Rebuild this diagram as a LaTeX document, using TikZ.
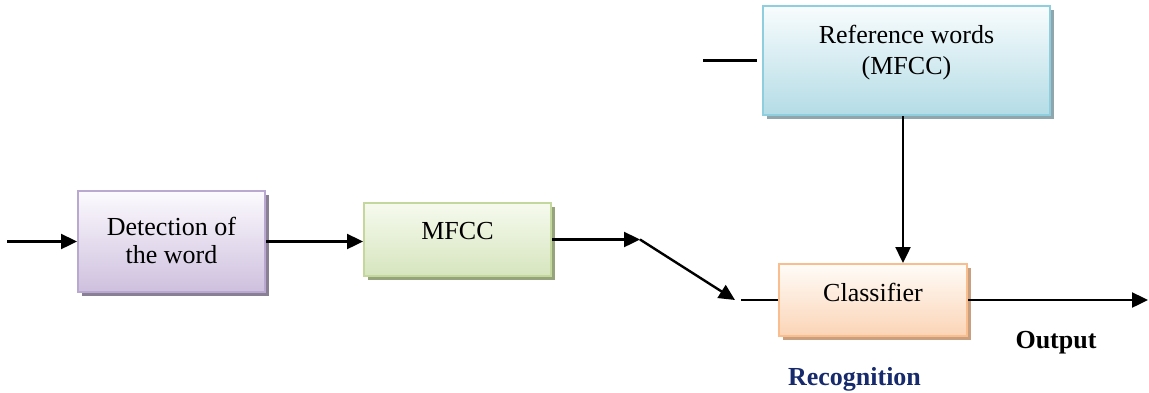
\documentclass[tikz,border=0pt]{standalone}
\usepackage{fontspec}
\setmainfont{Liberation Serif}
\usetikzlibrary{arrows.meta,shadows}

% box palettes: border, light top, darker bottom, shadow
\definecolor{detB}{RGB}{185,168,208}
\definecolor{detT}{RGB}{252,250,254}
\definecolor{detL}{RGB}{206,192,222}
\definecolor{detS}{RGB}{138,128,150}
\definecolor{mfB}{RGB}{196,216,158}
\definecolor{mfT}{RGB}{246,250,238}
\definecolor{mfL}{RGB}{214,229,190}
\definecolor{mfS}{RGB}{150,164,124}
\definecolor{refB}{RGB}{142,206,222}
\definecolor{refT}{RGB}{248,252,253}
\definecolor{refL}{RGB}{180,220,230}
\definecolor{refS}{RGB}{142,166,172}
\definecolor{clB}{RGB}{250,190,142}
\definecolor{clT}{RGB}{255,252,248}
\definecolor{clL}{RGB}{251,212,182}
\definecolor{clS}{RGB}{200,160,128}
\definecolor{navy}{RGB}{22,42,108}

\tikzset{
  blockbox/.style n args={4}{draw=#1, line width=2pt, inner sep=0pt,
    top color=#2, bottom color=#3,
    drop shadow={shadow xshift=4pt, shadow yshift=-4pt, fill=#4, opacity=1}},
  lbl/.style={font=\fontsize{26}{28}\selectfont, align=center, inner sep=0pt},
  boldlbl/.style={font=\fontsize{26}{28}\selectfont\bfseries, inner sep=0pt},
  conn/.style={line width=2.4pt},
  arr/.style={conn, -{Triangle[length=16pt,width=15pt]}}
}

\begin{document}
\begin{tikzpicture}[x=1pt,y=-1pt]
\useasboundingbox (0,0) rectangle (1149,392);

% processing blocks
\node[blockbox={detB}{detT}{detL}{detS}, minimum width=187pt, minimum height=101pt] (det) at (171.5,241.5) {};
\node[blockbox={mfB}{mfT}{mfL}{mfS}, minimum width=187pt, minimum height=73pt] (mfcc) at (457.5,239.5) {};
\node[blockbox={refB}{refT}{refL}{refS}, minimum width=287pt, minimum height=109pt] (ref) at (906.5,60.5) {};
\node[blockbox={clB}{clT}{clL}{clS}, minimum width=188pt, minimum height=72pt] (cls) at (873,300) {};

% block texts
\node[lbl] (detTxt) at (171.5,240) {Detection of\\the word};
\node[lbl] (mfccTxt) at (457.5,231) {MFCC};
\node[lbl, font=\fontsize{26}{31}\selectfont] (refTxt) at (906.5,52.4) {Reference words\\(MFCC)};
\node[lbl] (clsTxt) at (873,292) {Classifier};

% free labels
\node[boldlbl] (outTxt) at (1056,343) {Output};
\node[boldlbl, text=navy] (recTxt) at (854.5,379) {Recognition};

% connector end points
\coordinate (in) at (7,241.5);
\coordinate (jn) at (640,239.5);
\coordinate (dn) at (735,300);
\coordinate (cw) at (741,300);
\coordinate (rl) at (703,60.5);
\coordinate (out) at (1148,300);

% connectors
\draw[arr] (in) -- (det.west);
\draw[arr] (det.east) -- (det.east -| mfcc.west);
\draw[arr] (mfcc.east) -- (jn);
\draw[arr] (jn) -- (dn);
\draw[conn] (cw) -- (cls.west);
\draw[conn] (rl) -- ([xshift=-5pt]ref.west);
\draw[arr] ([xshift=-3.5pt]ref.south) -- ([xshift=-3.5pt]ref.south |- cls.north);
\draw[arr] (cls.east) -- (out);
\end{tikzpicture}
\end{document}
